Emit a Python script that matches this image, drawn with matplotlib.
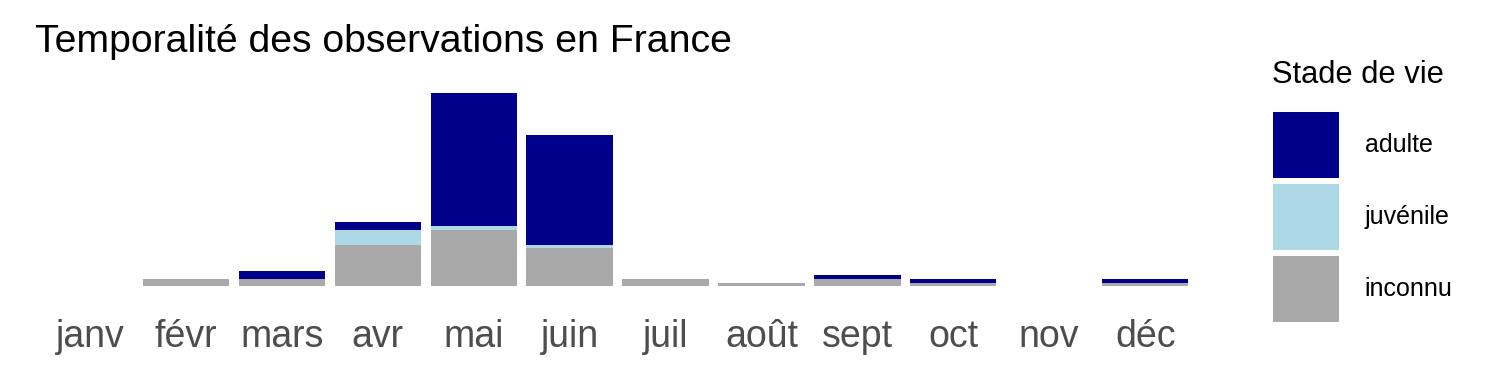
import numpy as np
import matplotlib.pyplot as plt
from matplotlib.patches import Patch

plt.rcParams['font.family'] = ['Liberation Sans', 'DejaVu Sans']

mois = ['janv', 'févr', 'mars', 'avr', 'mai', 'juin',
        'juil', 'août', 'sept', 'oct', 'nov', 'déc']
inconnu = [0, 2, 2, 12.3, 16.8, 11.5, 2, 0.8, 2, 0.8, 0, 0.8]
juvenile = [0, 0, 0, 4.5, 1.2, 0.75, 0, 0, 0, 0, 0, 0]
adulte = [0, 0, 2.4, 2.4, 40, 33, 0, 0, 1.2, 1.2, 0, 1.2]

stades = ['adulte', 'juvénile', 'inconnu']
couleurs = {'adulte': '#00008B', 'juvénile': '#ADD8E6', 'inconnu': '#A9A9A9'}

fig = plt.figure(figsize=(15, 3.75), dpi=100)
W, H = 1500, 375
ax = fig.add_axes([32.5 / W, 1 - 295.6 / H, (1202.7 - 32.5) / W, (295.6 - 83.4) / H])

x = np.arange(len(mois))
inc = np.array(inconnu)
juv = np.array(juvenile)
adu = np.array(adulte)

# stacked bars: inconnu at the bottom, adulte on top
ax.bar(x, inc, width=0.9, color=couleurs['inconnu'], linewidth=0)
ax.bar(x, juv, width=0.9, bottom=inc, color=couleurs['juvénile'], linewidth=0)
ax.bar(x, adu, width=0.9, bottom=inc + juv, color=couleurs['adulte'], linewidth=0)

total = (inc + juv + adu).max()
ax.set_xlim(-0.6, len(mois) - 0.4)
ax.set_ylim(-0.05 * total, 1.05 * total)

ax.set_xticks(x)
ax.set_xticklabels(mois, fontsize=27, color='#4D4D4D')
ax.tick_params(axis='x', length=0, pad=17)
ax.set_yticks([])
for s in ax.spines.values():
    s.set_visible(False)

fig.text(35 / W, 1 - 51.7 / H, 'Temporalité des observations en France',
         fontsize=28.3, va='baseline', ha='left')

# legend title drawn separately, keys below it
fig.text(1271.7 / W, 1 - 83.3 / H, 'Stade de vie', fontsize=22.2,
         va='baseline', ha='left')
handles = [Patch(facecolor=couleurs[s], edgecolor='none', label=s) for s in stades]
leg = fig.legend(handles=handles, loc='upper left',
                 bbox_to_anchor=(1262.7 / W, 1 - 101.7 / H), frameon=False,
                 fontsize=18, handlelength=2.64, handleheight=3.685,
                 labelspacing=0.24, handletextpad=1.04, borderaxespad=0)

fig.savefig('out.png', dpi=100)
